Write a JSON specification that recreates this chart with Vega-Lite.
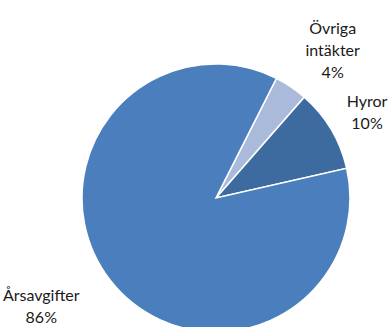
{
  "$schema": "https://vega.github.io/schema/vega-lite/v6.json",
  "width": 268,
  "height": 250,
  "autosize": {"type": "none"},
  "padding": {"left": 82, "top": 73, "right": 41, "bottom": 4},
  "background": "white",
  "config": {"view": {"stroke": null}},
  "data": {
    "values": [
      {"cat": "Övriga intäkter", "label": "Övriga\nintäkter\n4%", "value": 4, "ord": 1},
      {"cat": "Hyror", "label": "Hyror\n10%", "value": 10, "ord": 2},
      {"cat": "Årsavgifter", "label": "Årsavgifter\n86%", "value": 86, "ord": 3}
    ]
  },
  "encoding": {
    "theta": {"field": "value", "type": "quantitative", "stack": true, "scale": {"range": [0.4677, 6.7509]}},
    "order": {"field": "ord", "type": "quantitative"}
  },
  "layer": [
    {
      "mark": {"type": "arc", "radius": 134, "stroke": "white", "strokeWidth": 1.5},
      "encoding": {
        "color": {
          "field": "cat",
          "type": "nominal",
          "scale": {"domain": ["Övriga intäkter", "Hyror", "Årsavgifter"], "range": ["#a9badb", "#3d6b9f", "#4b7ebd"]},
          "legend": null
        }
      }
    },
    {
      "mark": {
        "type": "text",
        "font": "Lato",
        "fontSize": 16,
        "lineHeight": 22,
        "lineBreak": "\n",
        "align": "center",
        "baseline": "middle",
        "color": "#1a1a1a",
        "radius": {"expr": "datum.cat == 'Hyror' ? 170 : datum.cat == 'Årsavgifter' ? 190 : 180"},
        "dx": {"expr": "datum.cat == 'Hyror' ? 5 : datum.cat == 'Årsavgifter' ? -25 : 16"},
        "dy": {"expr": "datum.cat == 'Årsavgifter' ? -19 : datum.cat == 'Hyror' ? -9 : -20"}
      },
      "encoding": {
        "text": {"field": "label", "type": "nominal"}
      }
    }
  ]
}
